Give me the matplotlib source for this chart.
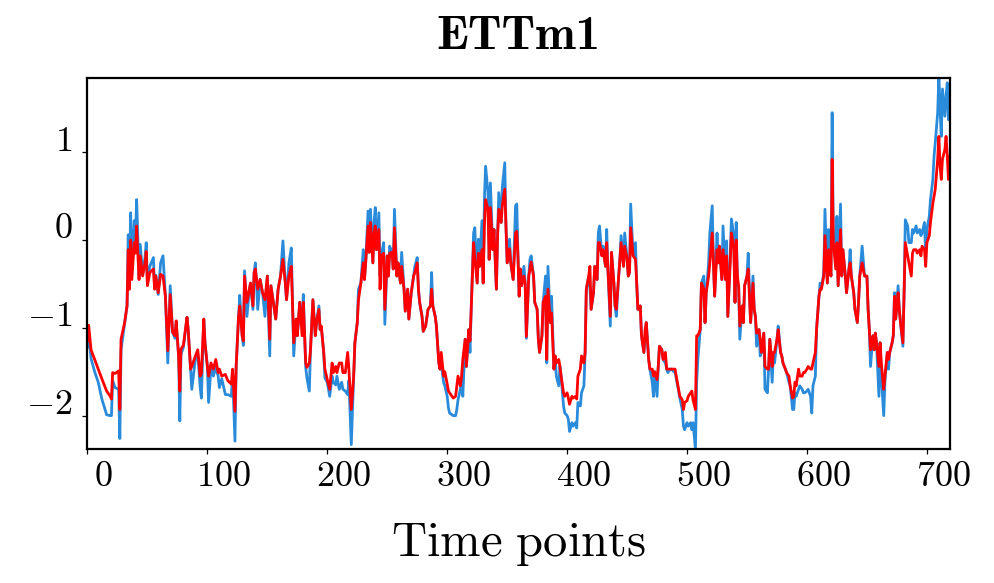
import matplotlib
matplotlib.use("Agg")
import matplotlib.pyplot as plt
import matplotlib.transforms as mtransforms

plt.rcParams['mathtext.fontset'] = 'cm'
plt.rcParams['font.family'] = ['cmr10', 'DejaVu Sans']

# time index of the sampled points
t = [
    0, 1, 3, 6, 9, 12, 16, 19, 20, 21,
    23, 26, 27, 28, 31, 33, 34, 35, 36, 37,
    39, 40, 41, 43, 44, 46, 48, 49, 50, 52,
    55, 56, 57, 59, 61, 63, 65, 67, 69, 71,
    73, 74, 76, 77, 78, 80, 83, 84, 86, 87,
    90, 92, 94, 95, 97, 98, 100, 101, 103, 105,
    107, 109, 110, 112, 115, 117, 120, 121, 123, 124,
    126, 127, 129, 130, 131, 133, 135, 136, 138, 139,
    140, 142, 144, 146, 148, 150, 152, 153, 155, 157,
    159, 161, 163, 165, 166, 168, 170, 172, 174, 175,
    177, 179, 180,
    182, 183, 185, 186, 188, 190, 191, 193, 194, 195,
    197, 198, 200, 202, 204, 205, 207, 208, 210, 212,
    213, 215, 217, 218, 220, 222, 223, 225, 226, 228,
    230, 231, 232, 234, 235, 236, 238, 239, 240, 241,
    243, 244, 245, 247, 248, 250, 251, 252, 254, 255,
    256, 258, 259, 261, 262, 264, 265, 267, 268, 270,
    272, 273, 275, 276, 277, 279, 280, 282, 284, 286,
    287, 288, 290, 291, 293, 294, 295, 297, 298, 300,
    301, 302, 304, 305, 307, 308, 309, 311, 312, 313,
    315, 316, 318, 319, 320, 322, 323, 325, 326, 327,
    329, 330, 331, 332, 334, 335, 336, 338, 339, 341,
    342, 343, 345, 346, 348, 349, 350, 352, 353, 355,
    357, 358, 359, 360,
    361, 362, 364, 365, 366, 368, 369, 370, 372, 373,
    375, 376, 377, 379, 380, 382, 383, 384, 386, 387,
    389, 390, 391, 393, 394, 395, 397, 398, 400, 401,
    402, 404, 405, 407, 408, 409, 411, 412, 414, 415,
    416, 418, 419, 420, 422, 423, 425, 426, 427, 429,
    430, 432, 433, 434, 436, 437, 439, 440, 441, 443,
    444, 445, 447, 448, 450, 451, 452, 453, 455, 457,
    458, 459, 461, 462, 464, 465, 466, 468, 469, 471,
    472, 473, 475, 476, 477, 479, 480, 482, 483, 484,
    486, 487, 489, 490, 491, 493, 494, 496, 497, 498,
    500, 501, 503, 504, 505, 507, 508, 509, 511, 512,
    514, 515, 516, 518, 519, 521, 522, 523, 525, 526,
    527, 529, 530, 532, 533, 534, 536, 537, 539, 540,
    541, 542, 543, 544, 546, 547, 548, 550, 551, 553,
    555, 556, 557, 558, 560, 561, 562, 564, 565, 567,
    568, 569, 571, 572, 573, 575, 576, 578, 579, 580,
    582, 583, 585, 586, 588, 589, 590, 591, 593, 594,
    596, 597, 598, 600, 601, 603, 604, 605, 607, 608,
    610, 611, 612, 614, 615, 617, 618, 619, 620, 621,
    622, 624, 625, 626, 628, 629, 630, 632, 633, 635,
    636, 637, 639, 640, 642, 643, 644, 646, 648, 650,
    651, 652, 653, 655, 656, 657, 658, 660, 661, 662,
    664, 665, 667, 668, 669, 671, 672, 673, 674, 676,
    677, 678, 680, 681, 682, 684, 685, 687, 688, 689,
    691, 692, 694, 695, 696, 698, 699, 700, 702, 703,
    705, 706, 707, 709, 710, 711, 712, 713, 715, 716,
    717, 718, 719,
]

# ground truth (blue)
actual = [
    -1.22, -1.05, -1.35, -1.50, -1.62, -1.81, -1.99, -2.00, -2.00, -1.60,
    -1.68, -1.70, -2.26, -1.25, -0.95, -0.75, 0.06, -0.45, 0.31, -0.35,
    0.22, 0.00, 0.46, -0.40, -0.05, -0.38, -0.20, -0.03, -0.50, -0.30,
    -0.20, -0.55, -0.40, -0.62, -0.26, -0.18, -0.64, -1.40, -0.52, -1.05,
    -1.12, -0.95, -1.32, -2.06, -1.30, -1.22, -0.88, -1.02, -1.47, -1.70,
    -1.35, -1.30, -1.68, -1.80, -0.90, -1.17, -1.44, -1.85, -1.45, -1.55,
    -1.45, -1.55, -1.68, -1.58, -1.76, -1.76, -1.78, -1.50, -2.29, -1.44,
    -0.87, -0.63, -1.09, -1.20, -0.35, -0.87, -0.56, -0.49, -0.79, -0.37,
    -0.26, -0.79, -0.45, -0.60, -0.87, -0.41, -1.32, -0.52, -0.71, -0.90,
    -0.56, -0.41, -0.01, -0.49, -0.68, -0.26, -0.09, -1.32, -0.90, -1.09,
    -0.71, -1.00, -0.62,
    -1.45, -1.57, -1.72, -1.25, -0.68, -1.09, -0.94, -0.75, -1.02, -1.00,
    -1.28, -1.57, -1.62, -1.78, -1.55, -1.62, -1.65, -1.55, -1.70, -1.62,
    -1.70, -1.72, -1.76, -1.60, -2.33, -1.55, -1.17, -0.94, -0.56, -0.49,
    -0.11, -0.45, -0.26, 0.33, -0.14, 0.35, -0.26, 0.20, 0.37, -0.11,
    0.31, -0.41, -0.18, -0.03, -0.96, -0.18, -0.41, -0.07, -0.14, -0.33,
    0.35, -0.41, -0.26, -0.49, -0.14, -0.56, -0.81, -0.56, -0.90, -0.60,
    -0.41, -0.30, -0.20, -0.56, -0.71, -0.87, -1.04, -0.98, -0.79, -0.75,
    -0.37, -0.75, -0.87, -0.98, -1.40, -1.47, -1.40, -1.62, -1.66, -1.78,
    -1.91, -1.97, -1.99, -2.00, -2.00, -1.93, -1.82, -1.70, -1.58, -1.78,
    -1.13, -1.44, -1.02, -1.28, -0.79, 0.08, 0.14, -0.49, 0.01, -0.30,
    0.22, -0.49, 0.46, 0.84, 0.54, -0.22, 0.65, -0.11, 0.12, -0.56,
    0.05, 0.54, 0.20, 0.61, 0.88, 0.16, -0.26, 0.01, -0.26, -0.45,
    0.39, 0.41, -0.18, -0.64,
    -0.33, -0.52, -0.30, -0.49, -1.12, -0.41, -0.22, -0.18, -0.41, -0.71,
    -0.79, -1.13, -1.28, -1.09, -0.71, -0.41, -1.40, -0.30, -0.94, -0.64,
    -1.47, -1.32, -1.55, -1.66, -1.44, -1.55, -1.89, -1.97, -2.00, -2.04,
    -2.18, -2.08, -2.12, -2.08, -2.14, -1.85, -1.89, -1.74, -1.66, -1.28,
    -0.56, -0.41, -0.55, -0.79, -0.60, -0.30, -0.45, 0.08, 0.16, -0.18,
    -0.07, -0.30, 0.12, -0.33, -0.98, -0.14, -0.49, -0.75, -0.87, -0.41,
    -0.22, 0.05, -0.30, 0.08, -0.22, -0.41, -0.37, 0.41, -0.18, -0.03,
    -0.49, -0.79, -0.75, -1.09, -1.28, -1.10, -0.94, -1.36, -1.47, -1.62,
    -1.78, -1.50, -1.78, -1.44, -1.21, -1.25, -1.36, -1.40, -1.47, -1.51,
    -1.47, -1.47, -1.50, -1.50, -1.58, -1.72, -1.80, -1.93, -2.12, -2.16,
    -2.08, -2.12, -2.08, -2.16, -2.08, -2.38, -1.62, -1.36, -1.02, -0.49,
    -0.41, -0.94, -0.60, -0.26, 0.08, 0.39, -0.26, -0.64, 0.08, -0.26,
    -0.07, -0.45, 0.16, -0.45, -0.01, -0.87, -0.18, 0.24, 0.05, -0.71,
    0.20, -0.52, -0.52, -1.13, -0.75, -0.94, -0.52, -0.41, -0.15, -0.94,
    -0.41, -0.79, -0.87, -1.21, -1.02, -1.32, -1.28, -1.06, -1.70, -1.74,
    -1.47, -1.13, -1.62, -1.28, -1.40, -1.13, -0.98, -1.28, -1.32, -1.40,
    -1.47, -1.51, -1.62, -1.66, -1.93, -1.93, -1.74, -1.78, -1.70, -1.66,
    -1.70, -1.74, -1.74, -1.72, -1.70, -1.78, -1.97, -1.66, -1.55, -1.02,
    -0.64, -0.49, -0.56, -0.37, 0.35, -0.49, 0.12, -0.26, -0.41, 1.45,
    -0.03, -0.03, 0.27, -0.52, 0.41, -0.41, -0.11, -0.41, -0.60, -0.33,
    -0.11, -0.41, -0.60, -0.79, -0.94, -0.71, -0.41, -0.07, -0.41, -0.41,
    -0.79, -1.02, -1.44, -1.09, -1.25, -1.06, -1.17, -1.78, -1.17, -1.55,
    -2.00, -1.62, -1.28, -1.47, -1.28, -1.17, -1.09, -0.60, -0.90, -0.52,
    -0.79, -0.94, -1.21, -0.60, 0.23, 0.16, -0.03, -0.03, 0.12, 0.08,
    0.16, 0.08, 0.12, 0.05, 0.08, 0.20, -0.15, 0.12, 0.27, 0.46,
    0.69, 0.96, 1.11, 1.45, 1.87, 1.49, 1.18, 1.72, 1.41, 1.64,
    1.79, 1.37, 1.50,
]

# model forecast (red)
forecast = [
    -1.15, -0.97, -1.25, -1.36, -1.47, -1.58, -1.72, -1.78, -1.81, -1.51,
    -1.52, -1.49, -1.93, -1.13, -0.94, -0.75, -0.11, -0.56, 0.00, -0.45,
    -0.03, -0.15, 0.16, -0.45, -0.18, -0.41, -0.26, -0.13, -0.52, -0.37,
    -0.33, -0.56, -0.41, -0.60, -0.39, -0.41, -0.64, -1.26, -0.62, -1.05,
    -1.09, -0.92, -1.32, -1.72, -1.24, -1.20, -0.88, -1.02, -1.47, -1.44,
    -1.32, -1.25, -1.55, -1.52, -0.90, -1.17, -1.44, -1.55, -1.40, -1.47,
    -1.36, -1.51, -1.47, -1.55, -1.53, -1.60, -1.64, -1.47, -1.95, -1.44,
    -0.87, -0.75, -1.09, -1.15, -0.41, -0.71, -0.56, -0.49, -0.75, -0.37,
    -0.33, -0.56, -0.45, -0.60, -0.68, -0.41, -1.13, -0.52, -0.71, -0.90,
    -0.56, -0.41, -0.22, -0.49, -0.68, -0.41, -0.30, -1.17, -0.90, -1.09,
    -0.71, -1.09, -0.71,
    -1.40, -1.45, -1.40, -1.25, -0.68, -1.09, -0.94, -0.79, -1.02, -0.98,
    -1.28, -1.47, -1.59, -1.70, -1.40, -1.51, -1.44, -1.51, -1.40, -1.40,
    -1.51, -1.51, -1.28, -1.47, -1.93, -1.55, -1.17, -0.94, -0.68, -0.49,
    -0.26, -0.45, -0.26, 0.16, -0.14, 0.20, -0.26, 0.08, 0.16, -0.11,
    0.12, -0.56, -0.18, -0.15, -0.79, -0.18, -0.41, -0.15, -0.14, -0.33,
    0.14, -0.41, -0.26, -0.49, -0.30, -0.56, -0.81, -0.56, -0.90, -0.60,
    -0.41, -0.37, -0.26, -0.56, -0.71, -0.87, -1.04, -0.98, -0.79, -0.75,
    -0.56, -0.75, -0.87, -0.98, -1.40, -1.47, -1.28, -1.55, -1.50, -1.64,
    -1.72, -1.74, -1.78, -1.80, -1.78, -1.66, -1.55, -1.66, -1.55, -1.36,
    -1.13, -1.44, -1.02, -1.15, -0.79, -0.03, -0.20, -0.49, -0.15, -0.30,
    -0.11, -0.49, 0.16, 0.46, 0.35, -0.22, 0.37, -0.11, 0.12, -0.56,
    0.05, 0.35, 0.20, 0.40, 0.58, 0.16, -0.26, -0.10, -0.26, -0.45,
    0.08, 0.10, -0.18, -0.64,
    -0.33, -0.52, -0.41, -0.49, -1.10, -0.41, -0.33, -0.25, -0.41, -0.71,
    -0.79, -1.13, -1.28, -1.09, -0.71, -0.64, -1.36, -0.56, -0.94, -0.83,
    -1.47, -1.32, -1.40, -1.36, -1.44, -1.55, -1.74, -1.78, -1.74, -1.80,
    -1.87, -1.78, -1.80, -1.78, -1.81, -1.55, -1.47, -1.32, -1.40, -1.28,
    -0.56, -0.41, -0.30, -0.79, -0.60, -0.30, -0.45, -0.03, -0.03, -0.18,
    -0.11, -0.30, -0.03, -0.33, -0.87, -0.14, -0.49, -0.75, -0.79, -0.41,
    -0.22, -0.03, -0.30, -0.07, -0.22, -0.41, -0.37, 0.14, -0.18, -0.22,
    -0.49, -0.79, -0.75, -1.09, -1.28, -1.02, -0.94, -1.36, -1.47, -1.47,
    -1.55, -1.50, -1.59, -1.44, -1.21, -1.25, -1.36, -1.28, -1.47, -1.47,
    -1.47, -1.47, -1.47, -1.47, -1.55, -1.70, -1.78, -1.82, -1.93, -1.85,
    -1.83, -1.78, -1.74, -1.72, -1.82, -1.93, -1.09, -1.09, -1.02, -0.49,
    -0.56, -0.94, -0.60, -0.41, -0.26, 0.08, -0.26, -0.64, -0.11, -0.26,
    -0.07, -0.45, -0.11, -0.45, -0.18, -0.87, -0.26, 0.08, -0.10, -0.71,
    0.00, -0.41, -0.52, -0.98, -0.75, -0.94, -0.52, -0.41, -0.33, -0.94,
    -0.49, -0.79, -0.87, -1.06, -1.02, -1.13, -1.28, -1.06, -1.44, -1.47,
    -1.47, -1.13, -1.44, -1.28, -1.28, -1.13, -1.02, -1.28, -1.32, -1.40,
    -1.47, -1.51, -1.55, -1.66, -1.80, -1.78, -1.62, -1.66, -1.47, -1.55,
    -1.55, -1.51, -1.51, -1.47, -1.44, -1.47, -1.47, -1.40, -1.28, -1.02,
    -0.64, -0.56, -0.56, -0.41, 0.05, -0.49, -0.11, -0.26, -0.41, 0.92,
    -0.03, -0.33, -0.03, -0.52, 0.12, -0.41, -0.11, -0.41, -0.60, -0.33,
    -0.26, -0.41, -0.60, -0.79, -0.94, -0.71, -0.41, -0.26, -0.41, -0.41,
    -0.79, -1.02, -1.25, -1.09, -1.25, -1.06, -1.17, -1.44, -1.17, -1.40,
    -1.70, -1.55, -1.28, -1.36, -1.28, -1.17, -1.09, -0.64, -0.90, -0.60,
    -0.79, -0.94, -1.17, -0.60, -0.03, -0.18, -0.26, -0.41, -0.15, -0.11,
    -0.11, -0.15, -0.11, -0.18, -0.07, -0.11, -0.30, -0.03, 0.05, 0.20,
    0.42, 0.50, 0.58, 0.92, 1.18, 0.84, 0.69, 0.92, 1.03, 1.18,
    0.96, 0.69, 0.95,
]

xticks = [0, 100, 200, 300, 400, 500, 600, 700]
yticks = [-2, -1, 0, 1]

n = min(len(t), len(actual), len(forecast))

fig = plt.figure(figsize=(9.95, 5.83), dpi=100)
ax = fig.add_axes([0.0879, 0.2298, 0.8669, 0.6364])

ax.plot(t[:n], actual[:n], color='#2a8bdb', lw=2.0)
ax.plot(t[:n], forecast[:n], color='#ff0000', lw=2.0)

ax.set_xlim(0, 719.3)
ax.set_ylim(-2.38, 1.845)

ax.set_xticks(xticks, labels=['$%d$' % v for v in xticks])
ax.set_yticks(yticks, labels=['$%d$' % v for v in yticks])
ax.tick_params(axis='both', length=3.6, width=0.9, labelsize=26)
ax.tick_params(axis='x', pad=5)
ax.tick_params(axis='y', pad=7)

for s in ax.spines.values():
    s.set_linewidth(1.6)

# tick labels in the original sit slightly off their ticks
dx = mtransforms.ScaledTranslation(16 / 100, 0, fig.dpi_scale_trans)
dy = mtransforms.ScaledTranslation(0, 14 / 100, fig.dpi_scale_trans)
for lbl in ax.get_xticklabels():
    lbl.set_transform(lbl.get_transform() + dx)
for lbl in ax.get_yticklabels():
    lbl.set_transform(lbl.get_transform() + dy)

ax.set_title('ETTm1', fontfamily='cmb10', fontsize=35, pad=21)
ax.set_xlabel(r'$\mathrm{Time\ points}$', fontsize=35)
ax.xaxis.set_label_coords(0.5, -0.195)

fig.savefig('out.png', dpi=100)
